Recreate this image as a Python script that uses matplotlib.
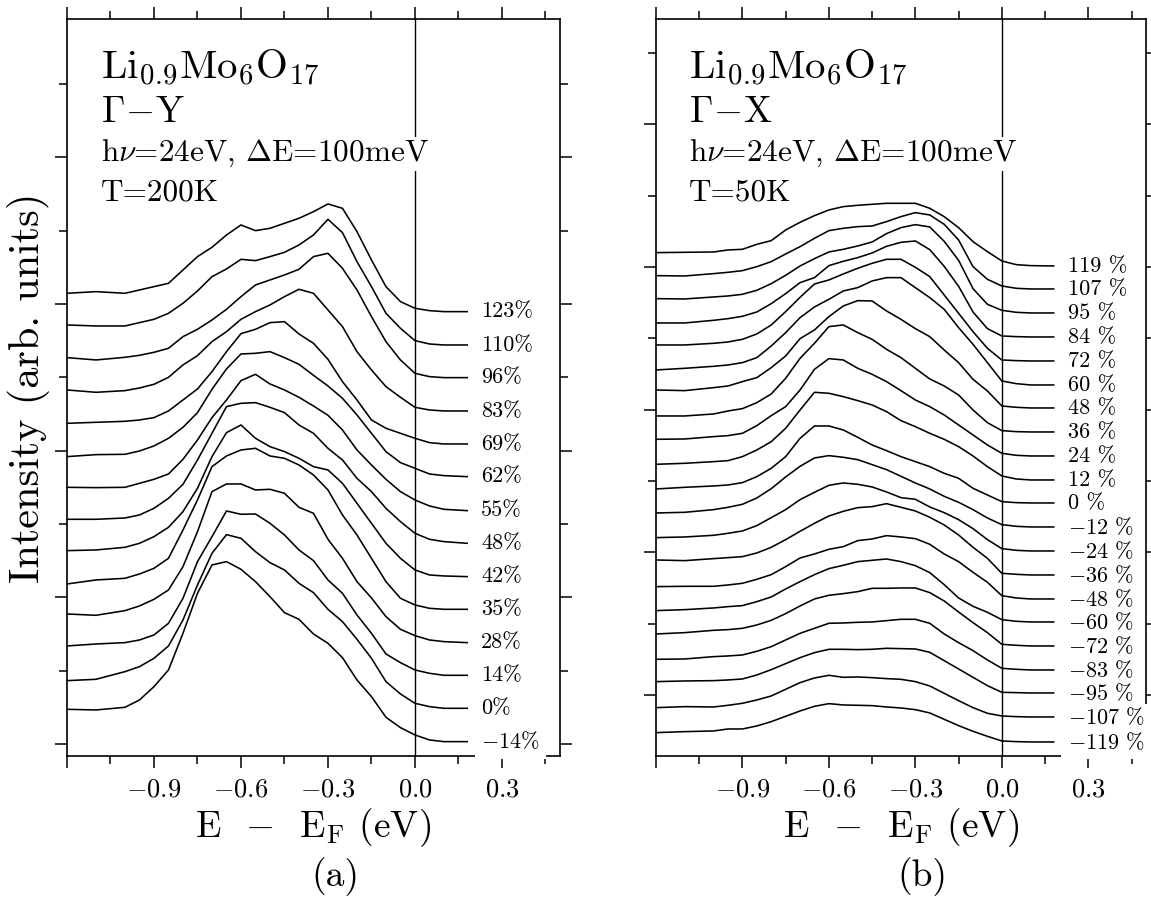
import numpy as np
import matplotlib
matplotlib.use("Agg")
import matplotlib.pyplot as plt
from matplotlib.ticker import FixedLocator

energy = [-1.2, -1.1, -1.0, -0.95, -0.9, -0.85, -0.8, -0.75, -0.7, -0.65, -0.6, -0.55, -0.5,
          -0.45, -0.4, -0.35, -0.3, -0.25, -0.2, -0.15, -0.1, -0.05, 0.0, 0.05, 0.1, 0.18]

# Panel (a): Gamma-Y, T=200K  (intensity above each curve's own baseline, arb. units)
labels_a = ["123%", "110%", "96%", "83%", "69%", "62%", "55%", "48%", "42%", "35%",
            "28%", "14%", "0%", "$-$14%"]
offsets_a = [1333, 1233, 1135, 1035, 936, 838, 736, 638, 538, 440, 340, 242, 143, 43]
edc_a = [
    [55, 60, 55, 65, 75, 85, 125, 165, 193, 230, 260, 243, 250, 265, 280, 300, 323, 310, 240, 155, 75, 30, 10, 3, 0, 0],
    [60, 57, 57, 67, 77, 95, 125, 162, 205, 228, 257, 253, 265, 278, 300, 330, 377, 337, 250, 175, 95, 50, 13, 3, 0, 0],
    [60, 53, 61, 67, 76, 88, 123, 145, 173, 205, 243, 278, 293, 308, 325, 363, 373, 328, 263, 183, 108, 53, 13, 3, 0, 0],
    [63, 56, 61, 69, 80, 101, 138, 166, 208, 238, 275, 298, 318, 343, 365, 353, 303, 253, 178, 123, 73, 41, 11, 3, 0, 0],
    [62, 65, 68, 72, 79, 99, 132, 165, 217, 277, 331, 344, 364, 367, 330, 302, 254, 187, 132, 72, 47, 32, 17, 4, 0, 0],
    [60, 66, 67, 77, 92, 115, 148, 192, 262, 323, 368, 370, 375, 357, 337, 304, 272, 235, 185, 130, 75, 42, 25, 8, 3, 0],
    [70, 69, 70, 82, 94, 110, 154, 212, 279, 332, 390, 409, 380, 362, 340, 314, 286, 242, 182, 137, 94, 57, 32, 14, 4, 0],
    [72, 72, 76, 85, 105, 135, 177, 250, 330, 410, 420, 422, 408, 392, 355, 330, 285, 250, 195, 155, 105, 65, 30, 12, 5, 0],
    [78, 80, 88, 100, 120, 148, 195, 265, 360, 432, 455, 415, 390, 375, 355, 330, 320, 280, 220, 160, 100, 55, 20, 5, 2, 0],
    [76, 88, 93, 106, 123, 153, 238, 328, 428, 460, 478, 483, 460, 453, 433, 403, 358, 283, 223, 153, 83, 33, 13, 3, 0, 0],
    [86, 82, 96, 110, 130, 158, 228, 333, 453, 476, 476, 458, 460, 448, 406, 388, 310, 253, 183, 134, 78, 40, 21, 8, 3, 0],
    [88, 94, 98, 106, 121, 156, 231, 341, 416, 493, 483, 484, 456, 421, 376, 344, 286, 246, 181, 126, 64, 38, 16, 6, 0, 0],
    [83, 87, 110, 125, 150, 187, 265, 370, 465, 521, 510, 470, 437, 415, 375, 347, 297, 260, 207, 150, 80, 43, 15, 5, 0, 0],
    [97, 95, 103, 125, 165, 215, 325, 445, 530, 540, 517, 480, 435, 387, 367, 323, 295, 252, 185, 135, 73, 42, 20, 5, 0, 0],
]

# Panel (b): Gamma-X, T=50K
labels_b = ["119 %", "107 %", "95 %", "84 %", "72 %", "60 %", "48 %", "36 %", "24 %", "12 %", "0 %",
            "$-$12 %", "$-$24 %", "$-$36 %", "$-$48 %", "$-$60 %", "$-$72 %", "$-$83 %", "$-$95 %",
            "$-$107 %", "$-$119 %"]
offsets_b = [1470, 1401, 1329, 1257, 1185, 1113, 1044, 972, 900, 828, 759,
             687, 615, 543, 471, 402, 330, 258, 189, 117, 42]
edc_b = [
    [40, 41, 42, 48, 50, 65, 76, 108, 131, 151, 168, 178, 182, 185, 188, 188, 188, 173, 148, 115, 73, 43, 15, 4, 1, 0],
    [40, 39, 46, 50, 55, 67, 82, 105, 127, 152, 175, 182, 187, 189, 202, 217, 229, 222, 194, 147, 67, 29, 9, 2, 0, 0],
    [43, 42, 48, 51, 56, 68, 88, 113, 141, 163, 183, 191, 201, 213, 238, 256, 265, 258, 215, 158, 73, 26, 8, 2, 0, 0],
    [42, 42, 50, 55, 62, 75, 100, 130, 163, 178, 214, 227, 238, 252, 272, 284, 288, 262, 212, 152, 75, 25, 3, 1, 0, 0],
    [48, 48, 53, 57, 65, 81, 108, 148, 191, 231, 243, 261, 278, 293, 305, 305, 281, 253, 198, 143, 88, 38, 3, 1, 0, 0],
    [45, 50, 56, 60, 67, 82, 117, 157, 202, 234, 257, 282, 292, 312, 322, 322, 292, 262, 227, 172, 122, 67, 12, 4, 0, 0],
    [54, 52, 61, 66, 79, 91, 121, 156, 208, 234, 274, 306, 322, 321, 291, 266, 238, 214, 174, 136, 86, 51, 6, 2, 0, 0],
    [48, 48, 54, 63, 70, 88, 114, 161, 221, 266, 316, 321, 298, 278, 248, 223, 191, 159, 138, 111, 66, 28, 4, 1, 0, 0],
    [50, 51, 58, 61, 68, 91, 121, 148, 198, 260, 292, 288, 263, 245, 223, 196, 168, 148, 123, 93, 63, 33, 8, 2, 0, 0],
    [47, 50, 55, 58, 70, 90, 115, 155, 210, 263, 260, 250, 238, 225, 205, 178, 160, 140, 122, 100, 72, 40, 12, 3, 0, 0],
    [42, 47, 51, 54, 61, 79, 104, 139, 194, 231, 231, 219, 197, 174, 157, 139, 124, 109, 89, 74, 44, 24, 4, 1, 0, 0],
    [42, 44, 52, 59, 68, 87, 115, 150, 182, 207, 214, 209, 202, 187, 172, 152, 132, 114, 92, 74, 52, 27, 7, 2, 0, 0],
    [40, 42, 47, 53, 60, 76, 100, 124, 154, 176, 197, 204, 200, 192, 177, 160, 155, 132, 115, 94, 67, 34, 7, 2, 0, 0],
    [45, 43, 49, 52, 55, 66, 83, 106, 131, 155, 177, 191, 202, 205, 214, 203, 192, 173, 150, 120, 83, 50, 5, 2, 0, 0],
    [37, 38, 38, 42, 47, 59, 73, 97, 123, 135, 149, 157, 175, 180, 190, 186, 181, 164, 135, 112, 80, 50, 10, 3, 0, 0],
    [34, 37, 42, 46, 49, 61, 75, 99, 121, 142, 160, 170, 181, 185, 189, 181, 169, 148, 112, 72, 47, 29, 7, 2, 0, 0],
    [36, 40, 47, 49, 53, 63, 77, 97, 120, 141, 152, 157, 163, 173, 173, 174, 174, 160, 135, 102, 70, 40, 5, 2, 0, 0],
    [32, 33, 40, 42, 45, 56, 70, 90, 110, 125, 140, 141, 143, 144, 148, 152, 152, 140, 108, 82, 58, 30, 5, 2, 0, 0],
    [34, 36, 37, 39, 42, 54, 70, 88, 106, 121, 131, 131, 130, 131, 134, 133, 132, 122, 97, 72, 47, 22, 2, 1, 0, 0],
    [28, 31, 30, 35, 41, 51, 63, 83, 103, 117, 125, 119, 120, 118, 115, 113, 106, 93, 71, 49, 28, 11, 3, 1, 0, 0],
    [28, 31, 33, 39, 39, 48, 61, 77, 93, 107, 115, 111, 110, 109, 105, 102, 97, 87, 68, 49, 32, 17, 3, 1, 0, 0],
]

# unlabelled intensity ticks
yticks_a = [36, 256, 476, 696, 916, 1136, 1356, 1576, 1796, 2016]
yticks_b = [183, 397, 611, 825, 1039, 1253, 1467, 1681, 1895, 2109]
xticks_major = [-1.2, -0.9, -0.6, -0.3, 0.0, 0.3]
xticks_minor = [-1.05, -0.75, -0.45, -0.15, 0.15, 0.45]
xtick_labels = ["", "$-0.9$", "$-0.6$", "$-0.3$", "$0.0$", "$0.3$"]

plt.rcParams['font.family'] = 'cmr10'
plt.rcParams['mathtext.fontset'] = 'cm'
plt.rcParams['axes.unicode_minus'] = False


def draw_panel(ax, edc, offsets, labels, yticks, direction, temp, letter):
    n = len(edc)
    for i, (curve, off, lab) in enumerate(zip(edc, offsets, labels)):
        ax.plot(energy, np.array(curve) + off, color="k", lw=1.15, zorder=3)
        # the lowest label's white box hides the bottom spine, as in the original
        pad = 4.5 if i == n - 1 else 1.5
        ax.text(0.228, off, lab, fontsize=16, va="center", ha="left", zorder=6,
                clip_on=False, bbox=dict(fc="white", ec="none", pad=pad))
    ax.axvline(0.0, color="k", lw=1.0, zorder=2)
    ax.set_xlim(-1.2, 0.5)
    ax.set_ylim(0, 2211)

    ax.xaxis.set_major_locator(FixedLocator(xticks_major))
    ax.xaxis.set_minor_locator(FixedLocator(xticks_minor))
    ax.set_xticklabels(xtick_labels)
    ax.yaxis.set_major_locator(FixedLocator(yticks[::2]))
    ax.yaxis.set_minor_locator(FixedLocator(yticks[1::2]))
    ax.set_yticklabels([])
    ax.tick_params(which="both", direction="out", top=True, right=True, width=1.1,
                   labelsize=19, pad=7)
    ax.tick_params(which="major", length=8.5)
    ax.tick_params(which="minor", length=6)
    for sp in ax.spines.values():
        sp.set_linewidth(1.2)

    tr = ax.transAxes
    ax.text(0.068, 0.9186, r"Li$_{0.9}$Mo$_6$O$_{17}$", transform=tr, fontsize=29.5, va="baseline")
    ax.text(0.068, 0.860, r"$\Gamma\!-\!$" + direction, transform=tr, fontsize=27, va="baseline")
    ax.text(0.068, 0.807, r"h$\nu$=24eV, $\Delta$E=100meV", transform=tr, fontsize=22.5,
            va="baseline", zorder=5, bbox=dict(fc="white", ec="none", pad=1))
    ax.text(0.068, 0.754, temp, transform=tr, fontsize=22.5, va="baseline")

    ax.text(0.5, -0.110, r"E  $-$  E$_{\mathrm{F}}$ (eV)", transform=tr, fontsize=27,
            ha="center", va="baseline")
    ax.text(0.544, -0.163, letter, transform=tr, fontsize=27, ha="center", va="center")


fig = plt.figure(figsize=(11.51, 8.99), dpi=100)
ax_a = fig.add_axes([0.0582, 0.1591, 0.4283, 0.8198])
ax_b = fig.add_axes([0.5699, 0.1591, 0.4257, 0.8198])

draw_panel(ax_a, edc_a, offsets_a, labels_a, yticks_a, "Y", "T=200K", "(a)")
draw_panel(ax_b, edc_b, offsets_b, labels_b, yticks_b, "X", "T=50K", "(b)")

ax_a.text(-0.078, 0.5, "Intensity (arb. units)", transform=ax_a.transAxes, fontsize=30.5,
          rotation=90, ha="center", va="center")

fig.savefig("out.png", dpi=100)
